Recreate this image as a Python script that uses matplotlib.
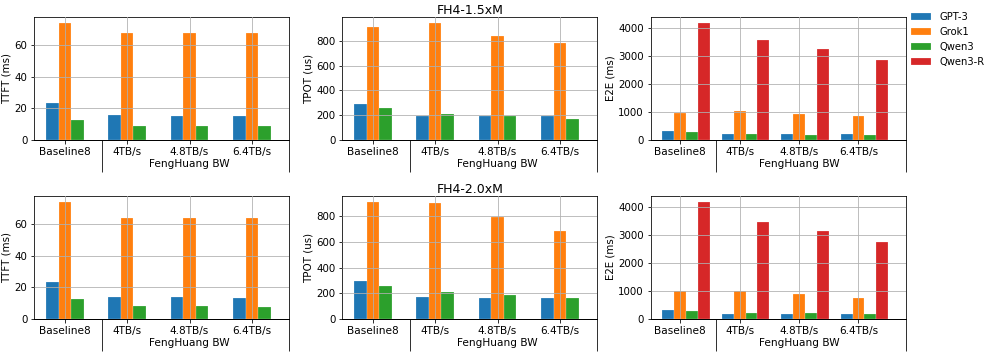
import matplotlib
matplotlib.use('Agg')
import matplotlib.pyplot as plt
import numpy as np

groups = ['Baseline8', '4TB/s', '4.8TB/s', '6.4TB/s']
models = ['GPT-3', 'Grok1', 'Qwen3', 'Qwen3-R']
colors = ['#1f77b4', '#ff7f0e', '#2ca02c', '#d62728']
titles = ['FH4-1.5xM', 'FH4-2.0xM']

# FH4-1.5xM
ttft_15 = {'GPT-3': [23.2, 15.6, 15.4, 15.2],
           'Grok1': [74.0, 67.6, 67.6, 67.5],
           'Qwen3': [12.5, 8.9, 8.9, 8.8]}
tpot_15 = {'GPT-3': [292, 195, 195, 192],
           'Grok1': [913, 946, 843, 781],
           'Qwen3': [259, 211, 195, 170]}
e2e_15 = {'GPT-3': [323, 204, 204, 204],
          'Grok1': [982, 1042, 934, 862],
          'Qwen3': [275, 216, 192, 168],
          'Qwen3-R': [4192, 3581, 3257, 2862]}

# FH4-2.0xM
ttft_20 = {'GPT-3': [23.2, 13.9, 13.7, 13.5],
           'Grok1': [74.0, 64.0, 64.0, 64.0],
           'Qwen3': [12.7, 8.0, 8.0, 7.8]}
tpot_20 = {'GPT-3': [294, 169, 167, 164],
           'Grok1': [912, 904, 797, 685],
           'Qwen3': [258, 208, 188, 164]}
e2e_20 = {'GPT-3': [334, 191, 191, 191],
          'Grok1': [1003, 991, 884, 764],
          'Qwen3': [287, 227, 203, 191],
          'Qwen3-R': [4191, 3487, 3164, 2770]}

ylabels = ['TTFT (ms)', 'TPOT (us)', 'E2E (ms)']
rows = [[ttft_15, tpot_15, e2e_15], [ttft_20, tpot_20, e2e_20]]

plt.rcParams['font.size'] = 10

fig = plt.figure(figsize=(997 / 72, 356 / 72), dpi=72)
W, H = 997, 356
lefts = [34.3, 342.3, 651]
tops = [17, 196]
aw, ah = 255, 123

x = np.arange(len(groups))
w = 0.2
handles = []
for r in range(2):
    for c in range(3):
        ax = fig.add_axes([lefts[c] / W, (H - tops[r] - ah) / H, aw / W, ah / H])
        data = rows[r][c]
        for i, m in enumerate(models):
            if m not in data:
                continue
            b = ax.bar(x + (i - 1) * w, data[m], w, color=colors[i], label=m,
                       edgecolor='white', linewidth=0.2)
            if r == 0 and c == 2:
                handles.append(b)
        ax.set_xticks(x, groups)
        ax.tick_params('x', labelsize=10.5)
        ax.tick_params('y', labelsize=10.3)
        ax.set_ylabel(ylabels[c], fontsize=10.3, labelpad=2.5)
        ax.grid(True)
        ax.set_axisbelow(False)
        xmax = 3.8 if c == 2 else 3.6
        ax.set_xlim(-0.49, xmax)
        # group separators
        sec = ax.secondary_xaxis('bottom')
        sec.set_xticks([0.6, xmax], labels=['', ''])
        sec.tick_params('x', length=32, width=0.8)
        sec2 = ax.secondary_xaxis('bottom')
        sec2.set_xticks([2], labels=['FengHuang BW'])
        sec2.tick_params('x', length=0, pad=19, labelsize=10.5)
        if c == 1:
            ax.set_title(titles[r], fontsize=12.5, pad=2)

fig.legend(handles=handles, labels=models, loc='upper left',
           bbox_to_anchor=(907 / W, 1 - 8 / H), frameon=False, borderaxespad=0)
plt.savefig('out.png', dpi=72)
